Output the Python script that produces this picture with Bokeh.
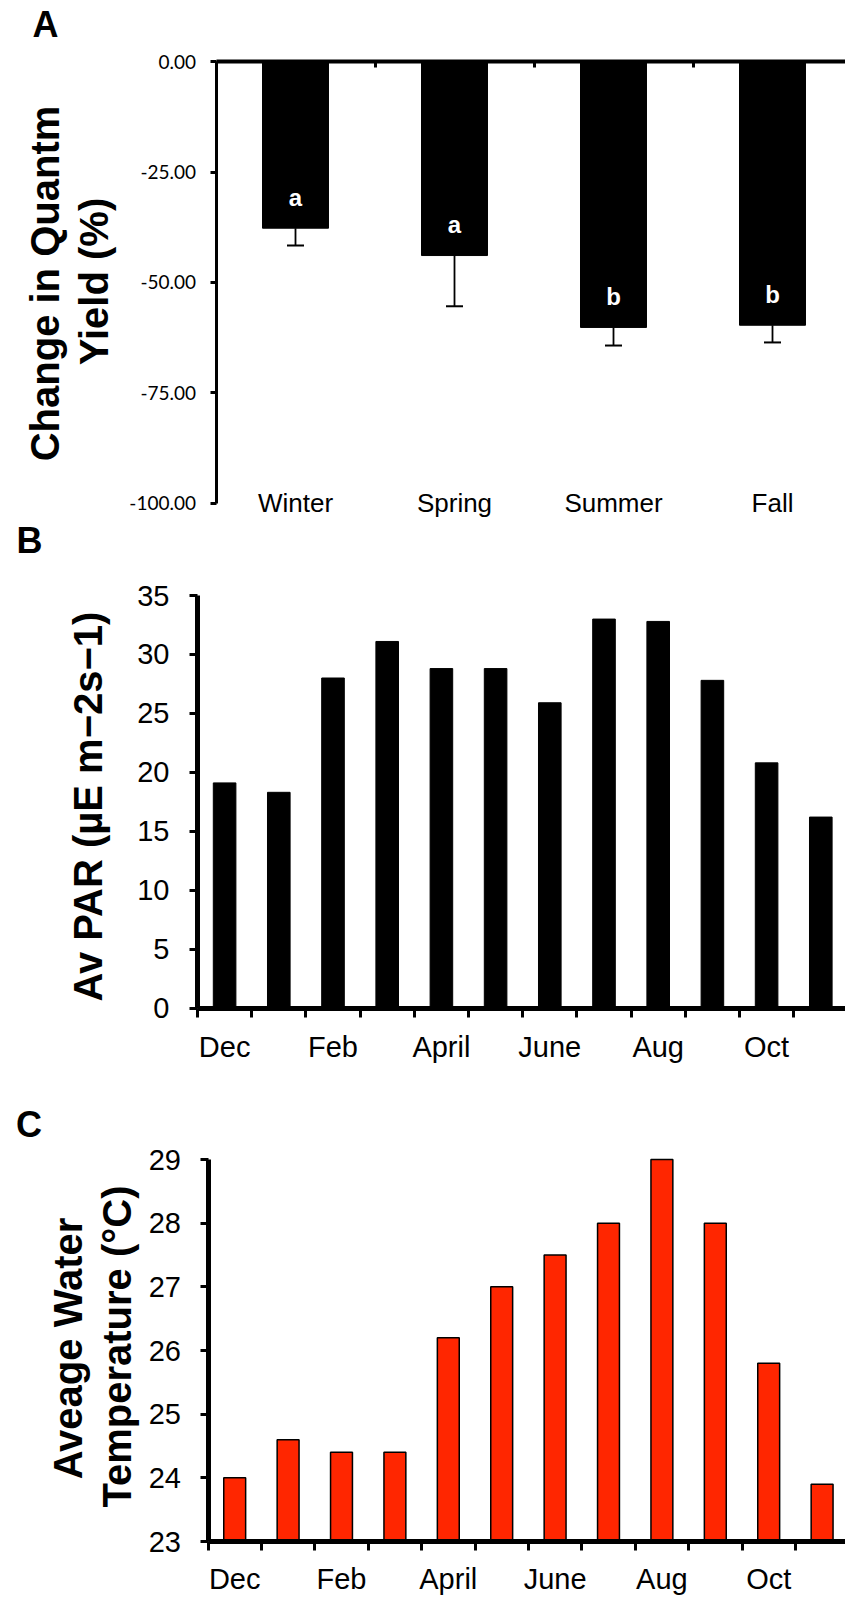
import numpy as np
from bokeh.plotting import figure
from bokeh.layouts import column
from bokeh.models import (Range1d, FixedTicker, NumeralTickFormatter, Label, LinearAxis,
                          Whisker, TeeHead, ColumnDataSource)
from bokeh.embed import file_html
from bokeh.resources import INLINE
from bokeh.core.properties import value

# ---------------- data ----------------
seasons = ["Winter", "Spring", "Summer", "Fall"]
qy_change = [-37.7, -43.9, -60.2, -59.7]
qy_err = [3.9, 11.5, 4.1, 3.9]
qy_letters = ["a", "a", "b", "b"]
qy_ticks = [0, -25, -50, -75, -100]

months = ["Dec", "Jan", "Feb", "Mar", "April", "May", "June", "July", "Aug", "Sep", "Oct", "Nov"]
month_labels = ["Dec", "Feb", "April", "June", "Aug", "Oct"]
par = [19.1, 18.3, 28.0, 31.1, 28.8, 28.8, 25.9, 33.0, 32.8, 27.8, 20.8, 16.2]
par_ticks = [0, 5, 10, 15, 20, 25, 30, 35]
temp = [24.0, 24.6, 24.4, 24.4, 26.2, 27.0, 27.5, 28.0, 29.0, 28.0, 25.8, 23.9]
temp_ticks = [23, 24, 25, 26, 27, 28, 29]

ARIAL = "Liberation Sans"
W = 845  # page has no margin: canvas spans the full window width


def pmap(p0, v0, p1, v1):
    """pixel -> data mapping through two anchor points (layout only)."""
    s = (p1 - p0) / (v1 - v0)
    return lambda px: v0 + (px - p0) / s


def make_fig(height, top, xa, ya):
    """xa/ya: (pixel, value, pixel, value) anchors in page pixels."""
    fx = pmap(*xa)
    fy = pmap(ya[0] - top, ya[1], ya[2] - top, ya[3])
    p = figure(width=W, height=height,
               x_range=Range1d(fx(0), fx(W)), y_range=Range1d(fy(height), fy(0)),
               output_backend="svg", toolbar_location=None,
               x_axis_location=None, y_axis_location=None,
               min_border=0, min_border_left=0, min_border_right=0,
               min_border_top=0, min_border_bottom=0)
    p.grid.visible = False
    p.outline_line_color = None
    p.background_fill_color = "white"
    p.border_fill_color = "white"
    px = lambda x: fx(x)
    py = lambda y: fy(y - top)
    return p, px, py, fx(W)


def style_axis(ax):
    ax.axis_line_color = "black"
    ax.major_tick_line_color = "black"
    ax.minor_tick_line_color = "black"
    ax.major_label_text_color = "black"


def label(p, x, y, t, size, angle=0.0, bold=True):
    p.add_layout(Label(x=x, y=y, text=t, angle=angle, text_font=ARIAL,
                       text_font_style="bold" if bold else "normal",
                       text_font_size=size, text_align="center", text_baseline="middle",
                       text_color="black"))


# ---------------- Panel A ----------------
HA, TA = 518, 0
pA, axp, ayp, xendA = make_fig(HA, TA, (215.5, 0, 374.5, 1), (61.4, 0, 502.5, -100))
xa = np.arange(len(seasons)) + 0.5

topA = LinearAxis(fixed_location=0, bounds=(0, xendA))
style_axis(topA)
topA.ticker = FixedTicker(ticks=list(range(len(seasons))))
topA.major_label_overrides = {i: "" for i in range(len(seasons))}
topA.major_tick_in = 6
topA.major_tick_out = 0
topA.minor_tick_line_color = None
topA.axis_line_width = 4
topA.major_tick_line_width = 3
pA.add_layout(topA, "above")

leftA = LinearAxis(fixed_location=0, bounds=(min(qy_ticks), max(qy_ticks)))
style_axis(leftA)
leftA.ticker = FixedTicker(ticks=qy_ticks)
leftA.formatter = NumeralTickFormatter(format="0.00")
leftA.major_tick_out = 6
leftA.major_tick_in = 0
leftA.minor_tick_line_color = None
leftA.axis_line_width = 3
leftA.major_tick_line_width = 3
leftA.major_label_text_font = "Lato"
leftA.major_label_text_font_size = "19px"
leftA.major_label_standoff = 14
pA.add_layout(leftA, "left")

pA.vbar(x=xa, top=0, bottom=qy_change, width=0.415, fill_color="black", line_color="black")
err_src = ColumnDataSource(dict(base=xa, upper=qy_change,
                                lower=[v - e for v, e in zip(qy_change, qy_err)]))
pA.add_layout(Whisker(source=err_src, base="base", upper="upper", lower="lower",
                      upper_head=None, lower_head=TeeHead(size=17, line_width=2, line_color="black"),
                      line_width=1.8, line_color="black"))
pA.text(x=xa, y=[v + 7 for v in qy_change], text=qy_letters, text_color="white",
        text_font=value(ARIAL), text_font_style="bold", text_font_size="24px",
        text_align="center", text_baseline="alphabetic")
pA.text(x=xa, y=[min(qy_ticks)] * len(seasons), text=seasons, text_color="black",
        text_font=value(ARIAL), text_font_size="26px", text_align="center",
        text_baseline="middle")
label(pA, axp(45), ayp(24), "A", "36px")
label(pA, axp(44), ayp(283), "Change in Quantm", "40px", angle=np.pi / 2)
label(pA, axp(93), ayp(281), "Yield (%)", "40px", angle=np.pi / 2)

# ---------------- Panels B and C ----------------
xm = np.arange(len(months)) + 0.5
label_pos = [float(xm[months.index(m)]) for m in month_labels]


def month_axis(p, base, xend, standoff):
    ax = LinearAxis(fixed_location=base, bounds=(0, xend))
    style_axis(ax)
    ax.ticker = FixedTicker(ticks=label_pos, minor_ticks=list(range(len(months) + 1)))
    ax.major_label_overrides = {pos: m for pos, m in zip(label_pos, month_labels)}
    ax.major_tick_in = 0
    ax.major_tick_out = 0
    ax.minor_tick_in = 0
    ax.minor_tick_out = 9
    ax.minor_tick_line_width = 3
    ax.axis_line_width = 5
    ax.major_label_text_font = ARIAL
    ax.major_label_text_font_size = "29px"
    ax.major_label_standoff = standoff
    p.add_layout(ax, "below")


def value_axis(p, ticks, standoff):
    ay = LinearAxis(fixed_location=0, bounds=(min(ticks), max(ticks)))
    style_axis(ay)
    ay.ticker = FixedTicker(ticks=ticks)
    ay.major_tick_out = 8
    ay.major_tick_in = 0
    ay.minor_tick_line_color = None
    ay.axis_line_width = 5
    ay.major_tick_line_width = 3
    ay.major_label_text_font = ARIAL
    ay.major_label_text_font_size = "29px"
    ay.major_label_standoff = standoff
    p.add_layout(ay, "left")


HB, TB = 558, 518
pB, bxp, byp, xendB = make_fig(HB, TB, (197, 0, 251.2, 1), (1007.5, 0, 595, 35))
month_axis(pB, 0, xendB, 14)
value_axis(pB, par_ticks, 20)
pB.vbar(x=xm, top=par, bottom=0, width=0.417, fill_color="black", line_color="black")
label(pB, bxp(29), byp(540), "B", "36px")
label(pB, bxp(87), byp(806), "Av PAR (µE m\u22122s\u22121)", "40px", angle=np.pi / 2)

HC, TC = 522, 1076
pC, cxp, cyp, xendC = make_fig(HC, TC, (207.5, 0, 260.9, 1), (1541, 23, 1159, 29))
month_axis(pC, min(temp_ticks), xendC, 12)
value_axis(pC, temp_ticks, 19)
pC.vbar(x=xm, top=temp, bottom=min(temp_ticks), width=0.41, fill_color="#FF2600",
        line_color="black", line_width=1.5)
label(pC, cxp(28.5), cyp(1124), "C", "36px")
label(pC, cxp(67), cyp(1348), "Aveage Water", "40px", angle=np.pi / 2)
label(pC, cxp(116), cyp(1346), "Temperature (°C)", "40px", angle=np.pi / 2)

layout = column(pA, pB, pC, spacing=0)
open("out.html", "w").write(file_html(layout, INLINE))
